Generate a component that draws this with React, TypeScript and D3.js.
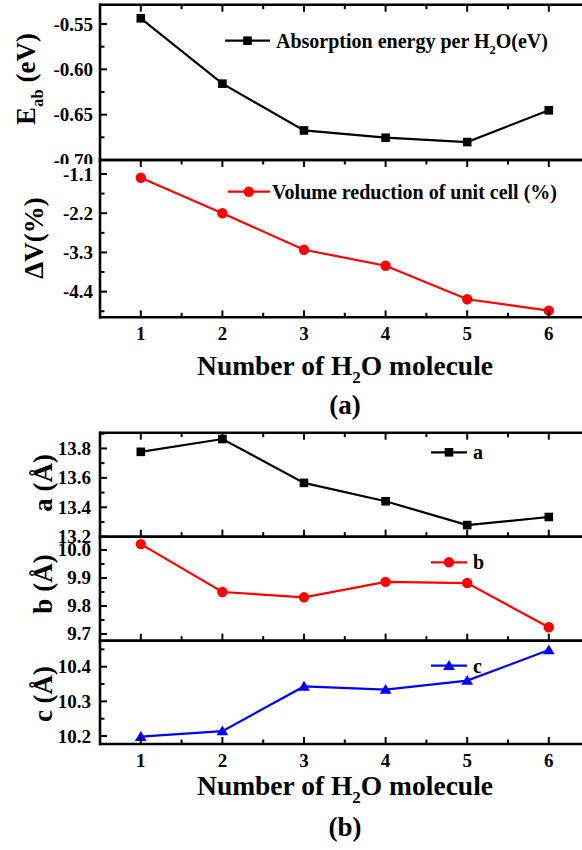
import React from "react";
import * as d3 from "d3";

// ---------- data ----------
const nH2O = [1, 2, 3, 4, 5, 6];
const absorptionEnergy = [-0.5437, -0.6158, -0.6674, -0.6754, -0.6802, -0.6452];
const volumeReduction = [-1.204, -2.2, -3.224, -3.673, -4.613, -4.933];
const latticeA = [13.777, 13.864, 13.566, 13.441, 13.279, 13.334];
const latticeB = [10.021, 9.85, 9.831, 9.886, 9.882, 9.724];
const latticeC = [10.198, 10.214, 10.343, 10.334, 10.36, 10.448];

const xTicks = [1, 2, 3, 4, 5, 6];
const xMinorTicks = [1.5, 2.5, 3.5, 4.5, 5.5];
const eTicks = [-0.7, -0.65, -0.6, -0.55];
const eMinor = [-0.675, -0.625, -0.575];
const vTicks = [-1.1, -2.2, -3.3, -4.4];
const vMinor = [-1.65, -2.75, -3.85, -4.95];
const aTicks = [13.2, 13.4, 13.6, 13.8];
const aMinor = [13.3, 13.5, 13.7, 13.9];
const bTicks = [9.7, 9.8, 9.9, 10.0];
const bMinor = [9.75, 9.85, 9.95];
const cTicks = [10.2, 10.3, 10.4];
const cMinor = [10.25, 10.35, 10.45];

const FONT = "'Liberation Serif', 'Times New Roman', serif";
const X0 = 100;
const X1 = 589.6;
const x = d3.scaleLinear().domain([0.5, 6.5]).range([X0, X1]);

type Marker = "square" | "circle" | "triangle";

// text with a subscript in the middle: [before, sub, after]
function SubText({ parts, fs }: { parts: [string, string, string]; fs: number }) {
  const sh = fs * 0.3;
  return (
    <>
      <tspan>{parts[0]}</tspan>
      <tspan dy={sh} fontSize={fs * 0.62}>
        {parts[1]}
      </tspan>
      <tspan dy={-sh}>{parts[2]}</tspan>
    </>
  );
}

interface PanelProps {
  top: number;
  bottom: number;
  domain: [number, number];
  values: number[];
  ticks: number[];
  minor: number[];
  fmt: (v: number) => string;
  color: string;
  marker: Marker;
  topTicks: boolean;
  bottomTicksDir: "up" | "down";
  labelRight: number;
  yLabel: React.ReactNode;
  yLabelX: number;
  yLabelY: number;
  legend: React.ReactNode;
  legendX0: number;
  legendX1: number;
  legendY: number;
  legendTextX: number;
  clipLabels?: boolean;
}

function MarkerShape({ type, cx, cy, color }: { type: Marker; cx: number; cy: number; color: string }) {
  if (type === "square") return <rect x={cx - 4.3} y={cy - 4.3} width={8.6} height={8.6} fill={color} />;
  if (type === "circle") return <circle cx={cx} cy={cy} r={5.2} fill={color} />;
  const s = 5.6;
  return <path d={`M${cx},${cy - s}L${cx + s * 1.05},${cy + s * 0.75}L${cx - s * 1.05},${cy + s * 0.75}Z`} fill={color} />;
}

function Panel(p: PanelProps) {
  const y = d3.scaleLinear().domain(p.domain).range([p.bottom, p.top]);
  const line = d3
    .line<number>()
    .x((_, i) => x(nH2O[i]))
    .y((d) => y(d));
  const major = 7;
  const minorL = 4.5;
  const bDir = p.bottomTicksDir === "up" ? -1 : 1;
  return (
    <g>
      <path d={line(p.values) || ""} fill="none" stroke={p.color} strokeWidth={2.2} />
      {p.values.map((v, i) => (
        <MarkerShape key={i} type={p.marker} cx={x(nH2O[i])} cy={y(v)} color={p.color} />
      ))}
      <g stroke="#000" strokeWidth={2.6} fill="none">
        <line x1={X0} x2={X1} y1={p.top} y2={p.top} />
        <line x1={X0} x2={X1} y1={p.bottom} y2={p.bottom} />
        <line x1={X0} x2={X0} y1={p.top - 1.3} y2={p.bottom + 1.3} />
        <line x1={X1} x2={X1} y1={p.top} y2={p.bottom} />
      </g>
      <g stroke="#000" strokeWidth={2}>
        {p.topTicks &&
          xTicks.map((t) => <line key={"tm" + t} x1={x(t)} x2={x(t)} y1={p.top} y2={p.top + major} />)}
        {p.topTicks &&
          xMinorTicks.map((t) => <line key={"tn" + t} x1={x(t)} x2={x(t)} y1={p.top} y2={p.top + minorL} />)}
        {xTicks.map((t) => (
          <line key={"bm" + t} x1={x(t)} x2={x(t)} y1={p.bottom} y2={p.bottom + bDir * major} />
        ))}
        {xMinorTicks.map((t) => (
          <line key={"bn" + t} x1={x(t)} x2={x(t)} y1={p.bottom} y2={p.bottom + bDir * minorL} />
        ))}
        {p.ticks.map((t) => (
          <line key={"ym" + t} x1={X0} x2={X0 + major} y1={y(t)} y2={y(t)} />
        ))}
        {p.minor.map((t) => (
          <line key={"yn" + t} x1={X0} x2={X0 + minorL} y1={y(t)} y2={y(t)} />
        ))}
      </g>
      <g
        fontFamily={FONT}
        fontWeight="bold"
        fontSize={19}
        textAnchor="end"
        clipPath={p.clipLabels ? "url(#clipE)" : undefined}
      >
        {p.ticks.map((t) => (
          <text key={"yl" + t} x={p.labelRight} y={y(t) + 6.5}>
            {p.fmt(t)}
          </text>
        ))}
      </g>
      <text
        fontFamily={FONT}
        fontWeight="bold"
        fontSize={27}
        textAnchor="middle"
        transform={`translate(${p.yLabelX},${p.yLabelY}) rotate(-90)`}
      >
        {p.yLabel}
      </text>
      <line x1={p.legendX0} x2={p.legendX1} y1={p.legendY} y2={p.legendY} stroke={p.color} strokeWidth={2.2} />
      <MarkerShape type={p.marker} cx={(p.legendX0 + p.legendX1) / 2} cy={p.legendY} color={p.color} />
      <text x={p.legendTextX} y={p.legendY + 7} fontFamily={FONT} fontWeight="bold" fontSize={20}>
        {p.legend}
      </text>
    </g>
  );
}

function XAxisLabels({ tickBaseline, titleBaseline, tag, tagBaseline }: { tickBaseline: number; titleBaseline: number; tag: string; tagBaseline: number }) {
  return (
    <g fontFamily={FONT} fontWeight="bold">
      {xTicks.map((t) => (
        <text key={t} x={x(t)} y={tickBaseline} fontSize={19} textAnchor="middle">
          {String(t)}
        </text>
      ))}
      <text x={345} y={titleBaseline} fontSize={27.5} textAnchor="middle">
        <SubText parts={["Number of H", "2", "O molecule"]} fs={27.5} />
      </text>
      <text x={345} y={tagBaseline} fontSize={27} textAnchor="middle">
        {tag}
      </text>
    </g>
  );
}

export default function App() {
  const f2 = (v: number) => v.toFixed(2);
  const f1 = (v: number) => v.toFixed(1);
  return (
    <svg width={582} height={850} style={{ position: "absolute", left: 0, top: 0, background: "#fff" }}>
      <defs>
        <clipPath id="clipE">
          <rect x={0} y={0} width={100} height={164} />
        </clipPath>
      </defs>
      <rect x={0} y={0} width={582} height={850} fill="#fff" />
      <Panel
        top={4.7}
        bottom={160}
        domain={[-0.7, -0.5287]}
        values={absorptionEnergy}
        ticks={eTicks}
        minor={eMinor}
        fmt={f2}
        color="#000"
        marker="square"
        topTicks={true}
        bottomTicksDir="down"
        labelRight={93}
        yLabel={<SubText parts={["E", "ab", " (eV)"]} fs={27} />}
        yLabelX={35}
        yLabelY={79}
        legend={<SubText parts={["Absorption energy per H", "2", "O(eV)"]} fs={20} />}
        legendX0={225}
        legendX1={270}
        legendY={40.7}
        legendTextX={276}
        clipLabels={true}
      />
      <Panel
        top={160}
        bottom={317.3}
        domain={[-5.12, -0.707]}
        values={volumeReduction}
        ticks={vTicks}
        minor={vMinor}
        fmt={f1}
        color="#ff0000"
        marker="circle"
        topTicks={false}
        bottomTicksDir="up"
        labelRight={93}
        yLabel={"ΔV(%)"}
        yLabelX={43}
        yLabelY={238}
        legend={"Volume reduction of unit cell (%)"}
        legendX0={227.7}
        legendX1={270}
        legendY={191.7}
        legendTextX={272}
      />
      <XAxisLabels tickBaseline={340} titleBaseline={375} tag="(a)" tagBaseline={414} />

      <Panel
        top={432.7}
        bottom={536.7}
        domain={[13.2, 13.907]}
        values={latticeA}
        ticks={aTicks}
        minor={aMinor}
        fmt={f1}
        color="#000"
        marker="square"
        topTicks={true}
        bottomTicksDir="up"
        labelRight={91}
        yLabel={"a (Å)"}
        yLabelX={52}
        yLabelY={483}
        legend={"a"}
        legendX0={431}
        legendX1={467}
        legendY={452.3}
        legendTextX={473}
      />
      <Panel
        top={536.7}
        bottom={640.7}
        domain={[9.676, 10.0475]}
        values={latticeB}
        ticks={bTicks}
        minor={bMinor}
        fmt={f1}
        color="#ff0000"
        marker="circle"
        topTicks={false}
        bottomTicksDir="up"
        labelRight={91}
        yLabel={"b (Å)"}
        yLabelX={52}
        yLabelY={584}
        legend={"b"}
        legendX0={431}
        legendX1={467}
        legendY={562.3}
        legendTextX={473}
      />
      <Panel
        top={640.7}
        bottom={744}
        domain={[10.177, 10.475]}
        values={latticeC}
        ticks={cTicks}
        minor={cMinor}
        fmt={f1}
        color="#0000ff"
        marker="triangle"
        topTicks={false}
        bottomTicksDir="up"
        labelRight={91}
        yLabel={"c (Å)"}
        yLabelX={52}
        yLabelY={694}
        legend={"c"}
        legendX0={431}
        legendX1={467}
        legendY={665.7}
        legendTextX={473}
      />
      <XAxisLabels tickBaseline={767} titleBaseline={795} tag="(b)" tagBaseline={836} />
    </svg>
  );
}
